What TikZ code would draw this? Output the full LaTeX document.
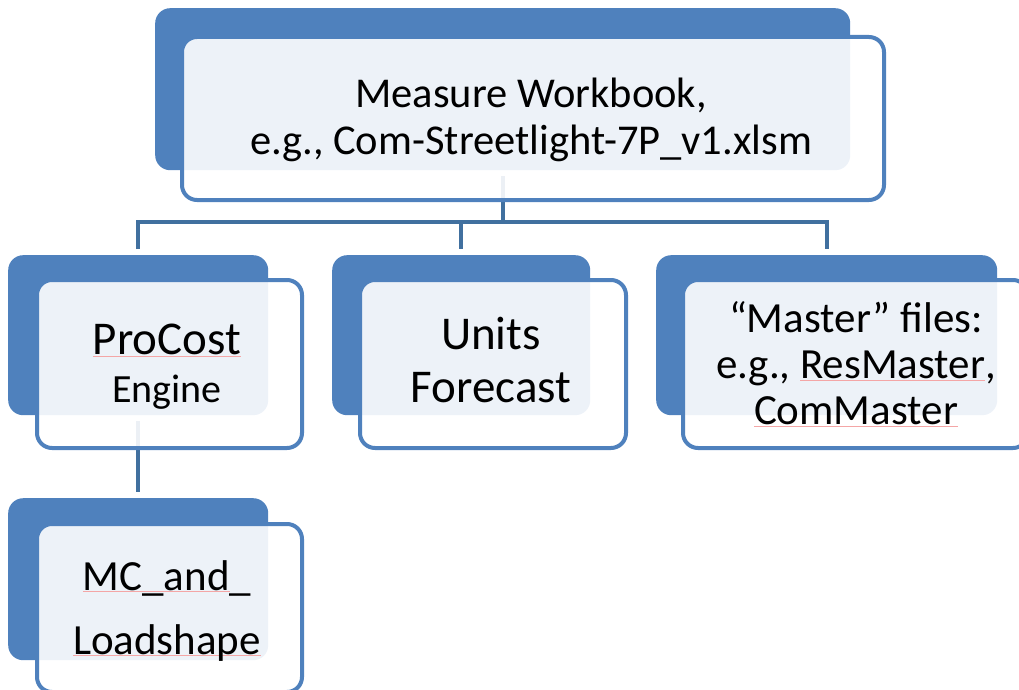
\documentclass[tikz,border=0pt]{standalone}
\usepackage{fontspec}
\setmainfont{Carlito}
\usepackage{xcolor}
\usetikzlibrary{positioning}

\definecolor{boxblue}{HTML}{4F81BD}
\definecolor{linkblue}{HTML}{41709F}
\definecolor{spellred}{HTML}{F4A6A6}

\newcommand\spellmark[1]{\setbox0\hbox{#1}\rlap{\color{spellred}\rule[-2pt]{\wd0}{1pt}}\box0}

\begin{document}
\begin{tikzpicture}[
			x=1pt, y=-1pt,
			backbox/.style={fill=boxblue, rounded corners=15pt, inner sep=0pt, anchor=north west},
			frontbox/.style={fill=white, fill opacity=0.9, draw=boxblue, line width=4pt, rounded corners=15pt, inner sep=0pt},
			boxtext/.style={align=center, text=black, inner sep=0pt},
			link/.style={draw=linkblue, line width=4pt, shorten <=6pt, shorten >=6pt}
			]
			\clip (0,0) rectangle (1019,690);
			
			% Back boxes
			\node (wbback) [backbox, minimum width=695pt, minimum height=162pt] at (155,8) {};
			\node (pcback) [backbox, minimum width=260pt, minimum height=160pt] at (8,255) {};
			\node (ufback) [backbox, minimum width=258pt, minimum height=160pt] at (332,255) {};
			\node (msback) [backbox, minimum width=341pt, minimum height=160pt] at (656,255) {};
			\node (mcback) [backbox, minimum width=260pt, minimum height=162pt] at (8,498) {};
			\coordinate (bar) at ([yshift=-52pt]wbback.south);
			
			% Connections
			\draw [link, shorten >=0pt] (wbback.south) -- (bar);
			\draw [link] (pcback.north) |- (bar) -| (msback.north);
			\draw [link, shorten <=0pt] (bar -| ufback.north) -- (ufback.north);
			\draw [link] (pcback.south) -- (mcback.north);
			
			% Front boxes
			\node (wbfront) [frontbox, minimum width=702pt, minimum height=163pt, anchor=north west] at ([xshift=25pt, yshift=-27pt]wbback.north west) {};
			\node (pcfront) [frontbox, minimum width=265pt, minimum height=168pt, anchor=north west] at ([xshift=27pt, yshift=-23pt]pcback.north west) {};
			\node (uffront) [frontbox, minimum width=266pt, minimum height=168pt, anchor=north west] at ([xshift=26pt, yshift=-23pt]ufback.north west) {};
			\node (msfront) [frontbox, minimum width=345pt, minimum height=168pt, anchor=north west] at ([xshift=25pt, yshift=-23pt]msback.north west) {};
			\node (mcfront) [frontbox, minimum width=265pt, minimum height=168pt, anchor=north west] at ([xshift=27pt, yshift=-24pt]mcback.north west) {};
			
			% Texts
			\node (wbtext) [boxtext, font=\fontsize{42.5}{47}\selectfont] at (531,120) {Measure Workbook,\\ e.g., Com-Streetlight-7P\_v1.xlsm};
			\node (pctext) [boxtext, font=\fontsize{47}{50}\selectfont] at (167,367) {\spellmark{ProCost}\\[-2pt] {\fontsize{40}{48}\selectfont Engine}};
			\node (uftext) [boxtext, font=\fontsize{47}{53}\selectfont] at (491,360) {Units\\ Forecast};
			\node (mstext) [boxtext, font=\fontsize{43}{46}\selectfont] at (856,364) {“Master” files:\\ e.g., \spellmark{ResMaster},\\ \spellmark{ComMaster}};
			\node (mctext) [boxtext, font=\fontsize{43}{64}\selectfont] at (167,611) {\spellmark{MC\_and}\_\\ \spellmark{Loadshape}};
			
		\end{tikzpicture}
\end{document}
